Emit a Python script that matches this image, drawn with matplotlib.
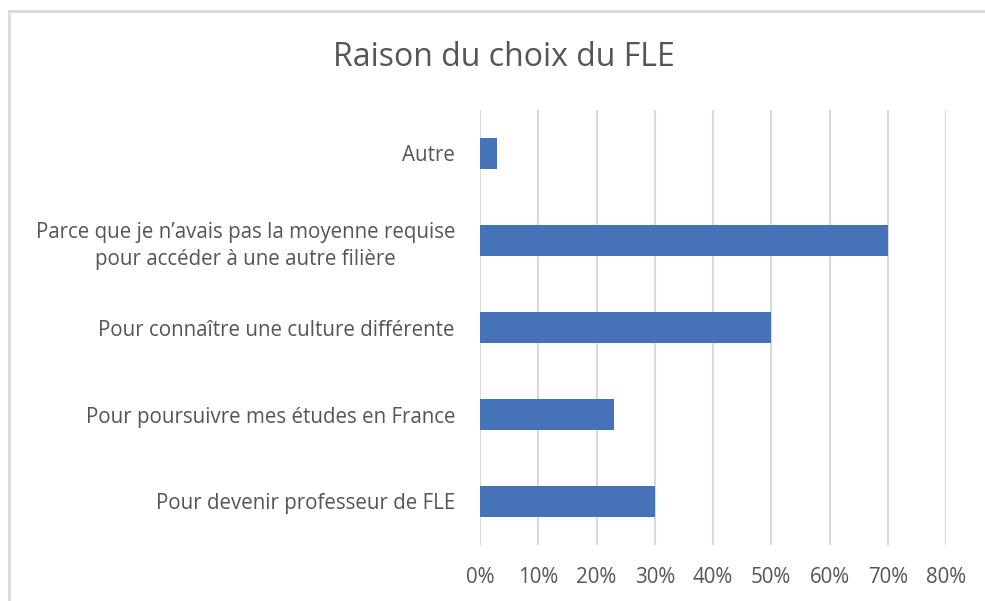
import matplotlib.pyplot as plt
from matplotlib.patches import Rectangle
from matplotlib.ticker import PercentFormatter

plt.rcParams['font.family'] = ['Open Sans', 'DejaVu Sans']

categories = [
    "Autre",
    "Parce que je n\u2019avais pas la moyenne requise\npour acc\u00e9der \u00e0 une autre fili\u00e8re",
    "Pour conna\u00eetre une culture diff\u00e9rente",
    "Pour poursuivre mes \u00e9tudes en France",
    "Pour devenir professeur de FLE",
]
values = [3, 70, 50, 23, 30]
xticks = [0, 10, 20, 30, 40, 50, 60, 70, 80]

fig = plt.figure(figsize=(9.85, 6.01), dpi=100)
# outer chart frame (cut off at right/bottom like the screenshot)
fig.patches.append(Rectangle((9 / 985, -0.05), 1.2, 1 - 11 / 601 + 0.05,
                             transform=fig.transFigure, fill=False,
                             edgecolor='#d9d9d9', linewidth=2))

ax = fig.add_axes([480 / 985, 1 - 545 / 601, (946 - 480) / 985, (545 - 110) / 601])
ypos = list(range(len(categories)))
ax.barh(ypos, values, height=0.345, color='#4672b8', zorder=3)
ax.set_ylim(len(categories) - 0.5, -0.5)
ax.set_xlim(0, 80)
ax.set_xticks(xticks)
ax.xaxis.set_major_formatter(PercentFormatter(decimals=0))
ax.set_yticks(ypos)
ax.set_yticklabels(categories, multialignment='center', linespacing=1.4)
ax.grid(axis='x', color='#d9d9d9', linewidth=1.5, zorder=0)
for s in ax.spines.values():
    s.set_visible(False)
ax.tick_params(length=0, labelsize=14.8, colors='#555555')
ax.tick_params(axis='y', pad=18)
ax.tick_params(axis='x', pad=16)

fig.text(504 / 985, 1 - 57 / 601, "Raison du choix du FLE", ha='center', va='center',
         fontsize=23, color='#555555')

fig.savefig('out.png', dpi=100)
